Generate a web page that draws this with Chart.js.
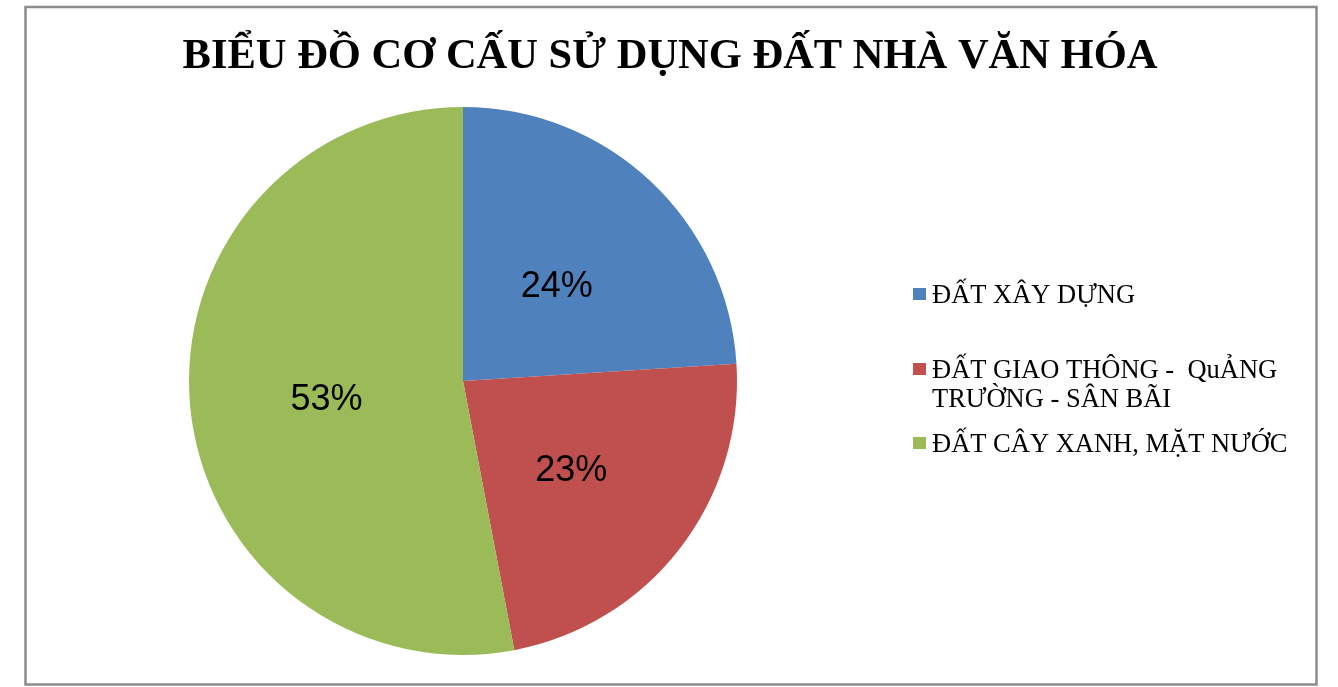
<!DOCTYPE html>
<html lang="vi">
<head>
    <meta charset="UTF-8">
    <title>Biểu đồ cơ cấu sử dụng đất nhà văn hóa</title>
    <script src="https://cdn.jsdelivr.net/npm/chart.js"></script>
    <style>
        body {
            margin: 0;
            background: #fff;
        }
        #chartContainer {
            width: 1338px;
            height: 687px;
        }
    </style>
</head>
<body>
    <div id="chartContainer">
        <canvas id="chartCanvas" width="1338" height="687"></canvas>
    </div>

    <script>
        const chartTitle = "BIỂU ĐỒ CƠ CẤU SỬ DỤNG ĐẤT NHÀ VĂN HÓA";
        const categories = ["ĐẤT XÂY DỰNG", "ĐẤT GIAO THÔNG -  QuẢNG TRƯỜNG - SÂN BÃI", "ĐẤT CÂY XANH, MẶT NƯỚC"];
        const shares = [24, 23, 53];
        const sliceColors = ["#4F81BD", "#C0504D", "#9BBB59"];

        // khung viền + tiêu đề
        const framePlugin = {
            id: "frame",
            beforeDraw(chart) {
                const ctx = chart.ctx;
                ctx.save();
                ctx.fillStyle = "#fff";
                ctx.fillRect(0, 0, chart.width, chart.height);
                ctx.strokeStyle = "#8c8c8c";
                ctx.lineWidth = 2.5;
                ctx.strokeRect(25.5, 7, 1291, 677.5);
                ctx.fillStyle = "#000";
                ctx.font = "bold 42.5px 'Liberation Serif', 'Times New Roman', serif";
                ctx.textAlign = "center";
                ctx.textBaseline = "alphabetic";
                ctx.fillText(chartTitle, 670, 68);
                ctx.restore();
            }
        };

        // nhãn phần trăm trên từng lát
        const percentPlugin = {
            id: "percentLabels",
            afterDatasetsDraw(chart) {
                const ctx = chart.ctx;
                const meta = chart.getDatasetMeta(0);
                const data = chart.data.datasets[0].data;
                const total = data.reduce((a, b) => a + b, 0);
                ctx.save();
                ctx.fillStyle = "#000";
                ctx.font = "36px 'Liberation Sans', Arial, sans-serif";
                ctx.textAlign = "center";
                ctx.textBaseline = "middle";
                meta.data.forEach((arc, i) => {
                    const p = arc.tooltipPosition();
                    ctx.fillText(Math.round(data[i] / total * 100) + "%", p.x, p.y + 6);
                });
                ctx.restore();
            }
        };

        // chú thích bên phải (có xuống dòng)
        const legendPlugin = {
            id: "sideLegend",
            afterDraw(chart) {
                const ctx = chart.ctx;
                const baselines = [303, 378, 452];
                const maxWidth = 400;
                ctx.save();
                ctx.font = "26.5px 'Liberation Serif', 'Times New Roman', serif";
                ctx.textBaseline = "alphabetic";
                chart.data.labels.forEach((label, i) => {
                    const y = baselines[i];
                    ctx.fillStyle = chart.data.datasets[0].backgroundColor[i];
                    ctx.fillRect(913, y - 15, 13, 12);
                    ctx.fillStyle = "#000";
                    const words = label.split(" ");
                    let line = "";
                    let ly = y;
                    words.forEach(w => {
                        const test = line ? line + " " + w : w;
                        if (line && ctx.measureText(test).width > maxWidth) {
                            ctx.fillText(line, 932, ly);
                            line = w;
                            ly += 29;
                        } else {
                            line = test;
                        }
                    });
                    ctx.fillText(line, 932, ly);
                });
                ctx.restore();
            }
        };

        const ctx = document.getElementById("chartCanvas").getContext("2d");
        const chart = new Chart(ctx, {
            type: "pie",
            data: {
                labels: categories,
                datasets: [{
                    data: shares,
                    backgroundColor: sliceColors,
                    borderWidth: 0,
                    hoverOffset: 0,
                    offset: 0
                }]
            },
            options: {
                responsive: false,
                animation: false,
                layout: {
                    padding: { left: 189, right: 601, top: 107, bottom: 32 }
                },
                plugins: {
                    legend: { display: false },
                    tooltip: { enabled: false },
                    title: { display: false }
                }
            },
            plugins: [framePlugin, percentPlugin, legendPlugin]
        });
    </script>
</body>
</html>
